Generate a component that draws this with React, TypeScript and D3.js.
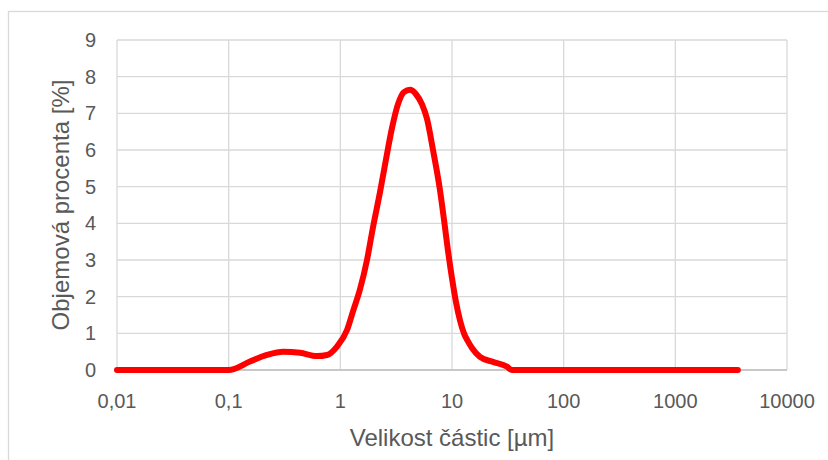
import React from "react";
import * as d3 from "d3";

const sizes = [0.01, 0.1, 0.155, 0.22, 0.307, 0.436, 0.618, 0.76, 0.933, 1.148, 1.298, 1.5, 1.733, 1.963, 2.266, 2.565, 2.902, 3.283, 3.715, 4.204, 4.76, 5.38, 5.97, 6.76, 7.81, 8.48, 9.21, 10.0, 10.86, 11.8, 12.8, 13.9, 15.1, 17.8, 23.3, 31.1, 34.4, 3630];
const volumes = [0, 0, 0.23, 0.41, 0.5, 0.47, 0.38, 0.41, 0.64, 1.09, 1.6, 2.2, 3.0, 3.9, 4.85, 5.75, 6.6, 7.25, 7.58, 7.64, 7.52, 7.25, 6.85, 6.0, 4.9, 4.1, 3.25, 2.5, 1.85, 1.35, 1.0, 0.78, 0.6, 0.36, 0.22, 0.09, 0, 0];
const xTicks = [0.01, 0.1, 1, 10, 100, 1000, 10000];
const xTickLabels = ["0,01", "0,1", "1", "10", "100", "1000", "10000"];
const yTicks = [0, 1, 2, 3, 4, 5, 6, 7, 8, 9];

const W = 828;
const H = 460;
const left = 117;
const right = 787;
const top = 40;
const bottom = 370;
const font = "'Liberation Sans', Arial, sans-serif";
const textColor = "#595959";

export default function App() {
  const x = d3.scaleLog().domain([0.01, 10000]).range([left, right]);
  const y = d3.scaleLinear().domain([0, 9]).range([bottom, top]);
  const pts: [number, number][] = sizes.map((s, i) => [x(s), y(volumes[i])]);
  const line = d3.line().curve(d3.curveMonotoneX)(pts) || "";

  return (
    <svg width={W} height={H} style={{ position: "absolute", left: 0, top: 0, background: "#fff" }}>
      <rect x={8.5} y={11.5} width={900} height={600} fill="#fff" stroke="#d9d9d9" strokeWidth={1.3} />
      {yTicks.map((t) => (
        <line key={"gy" + t} x1={left} x2={right} y1={y(t)} y2={y(t)} stroke="#d9d9d9" strokeWidth={1.3} />
      ))}
      {xTicks.map((t) => (
        <line key={"gx" + t} x1={x(t)} x2={x(t)} y1={top} y2={bottom} stroke="#d9d9d9" strokeWidth={1.3} />
      ))}
      <line x1={left} x2={right} y1={bottom} y2={bottom} stroke="#bfbfbf" strokeWidth={1.3} />
      {yTicks.map((t) => (
        <text key={"ty" + t} x={96} y={y(t) + 7} textAnchor="end" fontFamily={font} fontSize={20} fill={textColor}>
          {t}
        </text>
      ))}
      {xTicks.map((t, i) => (
        <text key={"tx" + t} x={x(t)} y={408} textAnchor="middle" fontFamily={font} fontSize={20} fill={textColor}>
          {xTickLabels[i]}
        </text>
      ))}
      <text x={(left + right) / 2} y={446} textAnchor="middle" fontFamily={font} fontSize={24} fill={textColor}>
        Velikost částic [µm]
      </text>
      <text
        transform={`translate(69, ${(top + bottom) / 2}) rotate(-90)`}
        textAnchor="middle"
        fontFamily={font}
        fontSize={24}
        fill={textColor}
      >
        Objemová procenta [%]
      </text>
      <path d={line} fill="none" stroke="#ff0000" strokeWidth={6} strokeLinejoin="round" strokeLinecap="round" />
    </svg>
  );
}
